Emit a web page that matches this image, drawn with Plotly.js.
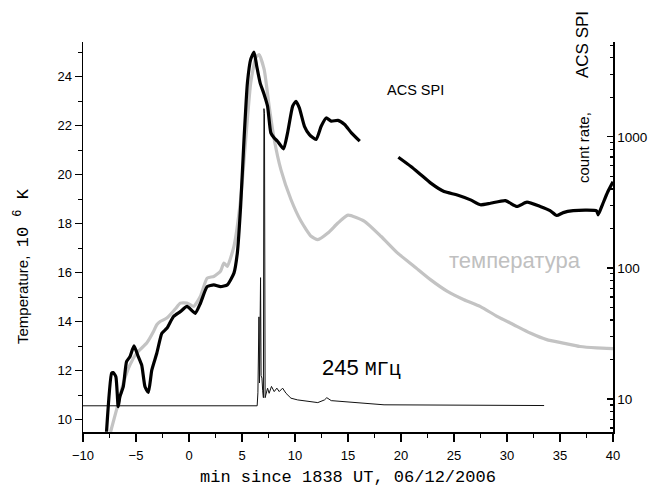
<!DOCTYPE html>
<html>
<head>
<meta charset="utf-8">
<script src="https://cdn.plot.ly/plotly-3.0.1.min.js"></script>
<style>html,body{margin:0;padding:0;background:#fff;}#chart{width:658px;height:490px;}</style>
</head>
<body>
<div id="chart"></div>
<script>
// Temperature (gray), left axis, 10^6 K
const tempX = [-7.4, -6.84, -6.2, -5.57, -4.94, -3.99, -3.35, -3.04, -2.72, -2.09, -1.3, -0.82, -0.19, 0.44, 1.08, 1.71, 2.34, 2.97, 3.29, 3.61, 4.24, 4.87, 5.35, 5.82, 6.3, 6.61, 7.09, 7.56, 8.04, 8.67, 9.62, 10.57, 11.52, 12.15, 13.1, 14.05, 15.0, 16.56, 18.13, 19.69, 21.25, 22.81, 24.38, 25.94, 27.5, 29.06, 30.63, 32.19, 33.75, 35.31, 36.88, 38.44, 40];
const tempY = [9.5, 10.4, 11.49, 12.24, 12.72, 13.13, 13.6, 13.88, 14.01, 14.15, 14.52, 14.76, 14.76, 14.63, 15.04, 15.78, 15.85, 16.06, 16.4, 16.26, 17.08, 18.99, 21.44, 23.75, 24.78, 24.91, 24.3, 22.8, 21.44, 20.21, 18.99, 18.1, 17.49, 17.35, 17.62, 18.03, 18.35, 18.1, 17.48, 16.8, 16.26, 15.71, 15.24, 14.9, 14.62, 14.22, 13.88, 13.54, 13.27, 13.13, 12.99, 12.93, 12.9];

// ACS SPI count rate (black), right log axis
const acsX = [-7.78, -7.3, -7.15, -6.9, -6.68, -6.52, -6.2, -5.89, -5.57, -5.19, -4.78, -4.46, -4.15, -3.83, -3.51, -3.04, -2.56, -2.09, -1.46, -0.82, -0.19, 0.28, 0.6, 1.08, 1.71, 2.34, 2.97, 3.61, 4.24, 4.56, 4.87, 5.19, 5.51, 5.82, 6.14, 6.39, 6.71, 7.09, 7.41, 7.72, 8.04, 8.35, 8.92, 9.3, 9.78, 10.09, 10.41, 10.89, 11.36, 11.99, 12.47, 12.94, 13.42, 14.05, 14.68, 15.32, 16.11, null, 19.75, 20.94, 21.88, 22.81, 24.06, 25.31, 26.56, 27.5, 28.44, 29.84, 30.94, 31.88, 33.13, 34.06, 34.69, 35.31, 36.25, 37.5, 38.44, 38.6, 39.0, 39.5, 40];
const acsC = [5.62, 15.7, 15.9, 14.8, 8.72, 10.4, 12.4, 19.3, 21.0, 25.4, 21.0, 18.1, 12.4, 11.2, 16.6, 22.3, 31.7, 34.6, 42.6, 46.4, 50.8, 47.2, 45.0, 53.7, 71.9, 74.2, 71.9, 74.2, 91.2, 130, 294, 953, 2578, 3897, 4416, 3454, 2578, 2105, 1712, 1071, 978, 925, 809, 1071, 1712, 1866, 1662, 1203, 1039, 953, 1203, 1392, 1317, 1334, 1240, 1071, 925, null, 699, 594, 513, 443, 382, 360, 330, 303, 311, 326, 294, 317, 294, 273, 251, 264, 273, 276, 273, 254, 303, 379, 453];

// 245 MHz radio flux (thin black), drawn on left-axis scale
const mhzX = [-10, 6.43, 6.5, 6.6, 6.65, 6.75, 6.8, 6.88, 6.95, 7.02, 7.07, 7.12, 7.18, 7.25, 7.41, 7.56, 7.78, 8.04, 8.29, 8.51, 8.83, 9.15, 9.62, 10.25, 11.2, 12.15, 12.78, 13.0, 13.42, 14.68, 15.63, 16.56, 18.4, 33.5];
const mhzY = [10.57, 10.57, 11.1, 14.2, 11.5, 15.8, 11.8, 11.7, 11.2, 10.9, 22.7, 22.5, 10.9, 11.0, 11.29, 11.08, 11.36, 11.15, 11.29, 11.15, 11.29, 11.08, 10.88, 10.81, 10.74, 10.7, 10.81, 10.9, 10.78, 10.74, 10.7, 10.68, 10.61, 10.58];

const xTickVals = [-10, -5, 0, 5, 10, 15, 20, 25, 30, 35, 40];
const yTickVals = [10, 12, 14, 16, 18, 20, 22, 24];
const y2TickVals = [10, 100, 1000];

const L = 83, R = 613, T = 42, B = 432, W = 658, H = 490;
const px = v => (v - L) / (R - L);
const py = v => (B - v) / (B - T);

const sans = 'Liberation Sans, Arial, sans-serif';
const mono = 'Liberation Mono, Courier New, monospace';

const traces = [
  {x: tempX, y: tempY, type: 'scatter', mode: 'lines', line: {color: '#c3c3c3', width: 3.2, shape: 'spline', smoothing: 0.5}, hoverinfo: 'skip'},
  {x: mhzX, y: mhzY, type: 'scatter', mode: 'lines', line: {color: '#111', width: 1}, hoverinfo: 'skip'},
  {x: acsX, y: acsC, type: 'scatter', mode: 'lines', yaxis: 'y2', line: {color: '#000', width: 3.2, shape: 'spline', smoothing: 0.5}, hoverinfo: 'skip'}
];

const layout = {
  width: W, height: H,
  margin: {l: L, r: W - R, t: T, b: H - B},
  paper_bgcolor: '#fff', plot_bgcolor: '#fff',
  showlegend: false,
  font: {family: sans, size: 13, color: '#000'},
  xaxis: {
    range: [-10, 40], tickvals: xTickVals, ticks: 'outside', ticklen: 8, tickwidth: 1.3, tickcolor: '#000',
    minor: {dtick: 2.5, tick0: -10, ticks: 'outside', ticklen: 4, tickwidth: 1.2, tickcolor: '#000'},
    showline: true, linecolor: '#000', linewidth: 1.5, showgrid: false, zeroline: false,
    ticklabelstandoff: 3,
    tickfont: {family: sans, size: 13}
  },
  yaxis: {
    range: [9.5, 25.42], tickvals: yTickVals, ticks: 'outside', ticklen: 7, tickwidth: 1.3, tickcolor: '#000',
    minor: {dtick: 1, tick0: 9, ticks: 'outside', ticklen: 4, tickwidth: 1.2, tickcolor: '#000'},
    showline: true, linecolor: '#000', linewidth: 1.5, showgrid: false, zeroline: false,
    tickfont: {family: sans, size: 13}
  },
  yaxis2: {
    type: 'log', overlaying: 'y', side: 'right', range: [0.748, 3.723],
    tickvals: y2TickVals, ticktext: ['10', '100', '1000'], ticks: 'inside', ticklen: 6, tickwidth: 1.3, tickcolor: '#000',
    minor: {ticks: 'inside', ticklen: 3.5, tickwidth: 1.2, tickcolor: '#000', dtick: 'D1'},
    showline: true, linecolor: '#000', linewidth: 1.5, showgrid: false, zeroline: false,
    tickfont: {family: sans, size: 13.5}
  },
  annotations: [
    {xref: 'paper', yref: 'paper', x: px(348), y: py(477), text: 'min since 1838 UT, 06/12/2006', showarrow: false,
     font: {family: mono, size: 17}, xanchor: 'center', yanchor: 'middle'},
    {xref: 'paper', yref: 'paper', x: px(22), y: py(266), textangle: -90, showarrow: false,
     text: 'Temperature,\u00a0\u00a0<span style="font-family:Liberation Mono;font-size:17px">10 <sup>6</sup> K</span>',
     font: {family: sans, size: 15}, xanchor: 'center', yanchor: 'middle'},
    {xref: 'paper', yref: 'paper', x: px(583), y: py(148), textangle: -90, showarrow: false,
     text: 'count rate,', font: {family: sans, size: 15}, xanchor: 'center', yanchor: 'middle'},
    {xref: 'paper', yref: 'paper', x: px(583), y: py(45), textangle: -90, showarrow: false,
     text: 'ACS SPI', font: {family: sans, size: 17}, xanchor: 'center', yanchor: 'middle'},
    {xref: 'paper', yref: 'paper', x: px(415), y: py(90), text: 'ACS SPI', showarrow: false,
     font: {family: sans, size: 14.5}, xanchor: 'center', yanchor: 'middle'},
    {xref: 'paper', yref: 'paper', x: px(515), y: py(260), text: 'температура', showarrow: false,
     font: {family: sans, size: 22, color: '#c0c0c0'}, xanchor: 'center', yanchor: 'middle'},
    {xref: 'paper', yref: 'paper', x: px(361), y: py(368), showarrow: false,
     text: '245 <span style="font-family:Liberation Mono;font-size:20px">МГц</span>',
     font: {family: sans, size: 22}, xanchor: 'center', yanchor: 'middle'}
  ]
};

Plotly.newPlot('chart', traces, layout, {displayModeBar: false, staticPlot: true});
</script>
</body>
</html>
